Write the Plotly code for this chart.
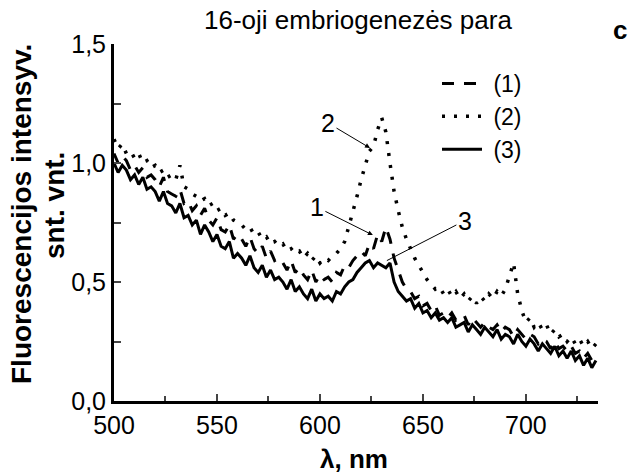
import plotly.graph_objects as go

# wavelengths, nm (step 2 nm)
wavelength = list(range(500, 736, 2))

# curve (1) - dashed
curve1 = [1.04, 1.00, 1.03, 1.01, 0.97, 0.99, 0.96, 0.98, 0.94, 0.95,
          0.93, 0.90, 0.94, 0.88, 0.87, 0.86, 0.89, 0.83, 0.84, 0.80,
          0.82, 0.78, 0.81, 0.76, 0.74, 0.77, 0.72, 0.71, 0.74, 0.68,
          0.70, 0.68, 0.65, 0.69, 0.64, 0.62, 0.65, 0.60, 0.63, 0.59,
          0.60, 0.58, 0.55, 0.59, 0.54, 0.56, 0.53, 0.51, 0.55, 0.50,
          0.53, 0.51, 0.52, 0.50, 0.54, 0.53, 0.57, 0.56, 0.59, 0.61,
          0.63, 0.61, 0.66, 0.64, 0.70, 0.67, 0.73, 0.68, 0.60, 0.55,
          0.50, 0.47, 0.46, 0.43, 0.44, 0.40, 0.41, 0.38, 0.40, 0.36,
          0.37, 0.35, 0.37, 0.34, 0.35, 0.36, 0.32, 0.35, 0.33, 0.31,
          0.33, 0.31, 0.30, 0.32, 0.29, 0.31, 0.30, 0.27, 0.30, 0.28,
          0.26, 0.28, 0.27, 0.24, 0.26, 0.25, 0.22, 0.25, 0.22, 0.23,
          0.21, 0.23, 0.20, 0.21, 0.18, 0.20, 0.17, 0.19]

# curve (2) - dotted
curve2 = [1.10, 1.06, 1.08, 1.04, 1.05, 1.02, 1.04, 1.00, 1.01, 0.98,
          0.99, 0.96, 0.97, 0.94, 0.95, 0.93, 0.99, 0.90, 0.89, 0.87,
          0.86, 0.84, 0.85, 0.82, 0.83, 0.80, 0.81, 0.78, 0.79, 0.76,
          0.75, 0.74, 0.72, 0.73, 0.70, 0.71, 0.68, 0.69, 0.66, 0.67,
          0.65, 0.66, 0.63, 0.64, 0.62, 0.63, 0.60, 0.62, 0.59, 0.61,
          0.58, 0.60, 0.59, 0.61, 0.62, 0.64, 0.67, 0.73, 0.80, 0.86,
          0.93, 0.99, 1.05, 1.07, 1.14, 1.19, 1.13, 1.00, 0.88, 0.80,
          0.73, 0.68, 0.64, 0.60, 0.57, 0.54, 0.51, 0.49, 0.47, 0.48,
          0.45, 0.47, 0.44, 0.46, 0.43, 0.45, 0.42, 0.44, 0.41, 0.44,
          0.42, 0.45, 0.43, 0.46, 0.44, 0.47, 0.52, 0.58, 0.45, 0.38,
          0.33, 0.35, 0.31, 0.33, 0.30, 0.32, 0.28, 0.30, 0.27, 0.28,
          0.25, 0.27, 0.24, 0.26, 0.23, 0.25, 0.22, 0.24]

# curve (3) - solid
curve3 = [1.00, 0.96, 0.99, 0.97, 0.93, 0.95, 0.91, 0.94, 0.89, 0.90,
          0.88, 0.84, 0.88, 0.83, 0.82, 0.79, 0.83, 0.77, 0.78, 0.74,
          0.76, 0.70, 0.74, 0.71, 0.67, 0.70, 0.65, 0.64, 0.67, 0.60,
          0.62, 0.60, 0.57, 0.61, 0.56, 0.54, 0.57, 0.52, 0.55, 0.51,
          0.52, 0.50, 0.47, 0.51, 0.46, 0.48, 0.45, 0.43, 0.47, 0.42,
          0.45, 0.43, 0.44, 0.42, 0.46, 0.45, 0.48, 0.50, 0.51, 0.54,
          0.56, 0.58, 0.59, 0.56, 0.58, 0.57, 0.56, 0.58, 0.50, 0.46,
          0.44, 0.42, 0.43, 0.39, 0.41, 0.37, 0.38, 0.35, 0.37, 0.34,
          0.35, 0.33, 0.35, 0.31, 0.32, 0.33, 0.29, 0.32, 0.30, 0.28,
          0.31, 0.29, 0.27, 0.30, 0.26, 0.28, 0.27, 0.24, 0.28, 0.25,
          0.23, 0.26, 0.24, 0.21, 0.24, 0.22, 0.20, 0.23, 0.19, 0.21,
          0.18, 0.21, 0.17, 0.19, 0.15, 0.18, 0.14, 0.17]

legend_names = ["(1)", "(2)", "(3)"]
x_ticks = [500, 550, 600, 650, 700]
y_ticks = [0.0, 0.5, 1.0, 1.5]
y_tick_text = ["0,0", "0,5", "1,0", "1,5"]

W, H = 633, 474
L, R, T, B = 114, 35, 44, 73
PW, PH = W - L - R, H - T - B


def px(xp):
    return (xp - L) / PW


def py(yp):
    return (H - B - yp) / PH


FONT = "Arial, Liberation Sans, sans-serif"
NB = "\u00a0"

fig = go.Figure()
fig.add_trace(go.Scatter(x=wavelength, y=curve1, mode="lines", name=NB + legend_names[0],
                         line=dict(color="black", width=3, dash="12px,10px")))
fig.add_trace(go.Scatter(x=wavelength, y=curve2, mode="lines", name=NB + legend_names[1],
                         line=dict(color="black", width=3.5, dash="3px,9px")))
fig.add_trace(go.Scatter(x=wavelength, y=curve3, mode="lines", name=NB + legend_names[2],
                         line=dict(color="black", width=3)))

fig.update_layout(
    width=W, height=H,
    margin=dict(l=L, r=R, t=T, b=B),
    paper_bgcolor="white", plot_bgcolor="white",
    font=dict(family=FONT, size=25, color="black"),
    showlegend=True,
    legend=dict(x=px(437), y=py(62), xanchor="left", yanchor="top",
                bgcolor="rgba(0,0,0,0)", font=dict(size=23),
                tracegroupgap=0, itemwidth=40),
    xaxis=dict(range=[500, 735], tickvals=x_ticks, ticks="inside", ticklen=7,
               tickwidth=2, showline=True, linewidth=3, linecolor="black",
               showgrid=False, zeroline=False, mirror=False,
               tickfont=dict(size=25),
               minor=dict(ticks="inside", ticklen=5, tickwidth=2,
                          tick0=525, dtick=50, showgrid=False)),
    yaxis=dict(range=[0, 1.5], tickvals=y_ticks, ticktext=y_tick_text,
               ticks="inside", ticklen=7, tickwidth=2, showline=True,
               linewidth=3, linecolor="black", showgrid=False,
               zeroline=False, tickfont=dict(size=25),
               minor=dict(ticks="inside", ticklen=7, tickwidth=2,
                          tick0=0.25, dtick=0.5, showgrid=False)),
)

annots = [
    dict(text="16-oji embriogenezės para", x=px(358), y=py(20),
         font=dict(size=26)),
    dict(text="<b>c</b>", x=px(620), y=py(30), font=dict(size=26)),
    dict(text="<b>Fluorescencijos intensyv.</b>", x=px(21), y=py(214),
         textangle=-90, font=dict(size=28)),
    dict(text="<b>snt. vnt.</b>", x=px(54), y=py(206),
         textangle=-90, font=dict(size=28)),
    dict(text="<b>λ, nm</b>", x=px(354), y=py(459), font=dict(size=26)),
]
for a in annots:
    a.update(xref="paper", yref="paper", showarrow=False,
             xanchor="center", yanchor="middle")
    fig.add_annotation(**a)

# labelled arrows pointing at the curves
fig.add_annotation(x=624.3, y=1.063, xref="x", yref="y", text="2", showarrow=True,
                   ax=-42, ay=-25, arrowhead=2, arrowsize=1, arrowwidth=1,
                   arrowcolor="black", font=dict(size=25), standoff=0)
fig.add_annotation(x=625.7, y=0.697, xref="x", yref="y", text="1", showarrow=True,
                   ax=-56, ay=-28, arrowhead=2, arrowsize=1, arrowwidth=1,
                   arrowcolor="black", font=dict(size=25), standoff=0)
fig.add_annotation(x=632.5, y=0.59, xref="x", yref="y", text="3", showarrow=True,
                   ax=78, ay=-40, arrowhead=0, arrowwidth=1,
                   arrowcolor="black", font=dict(size=25), standoff=0)

fig.write_html("out.html")
